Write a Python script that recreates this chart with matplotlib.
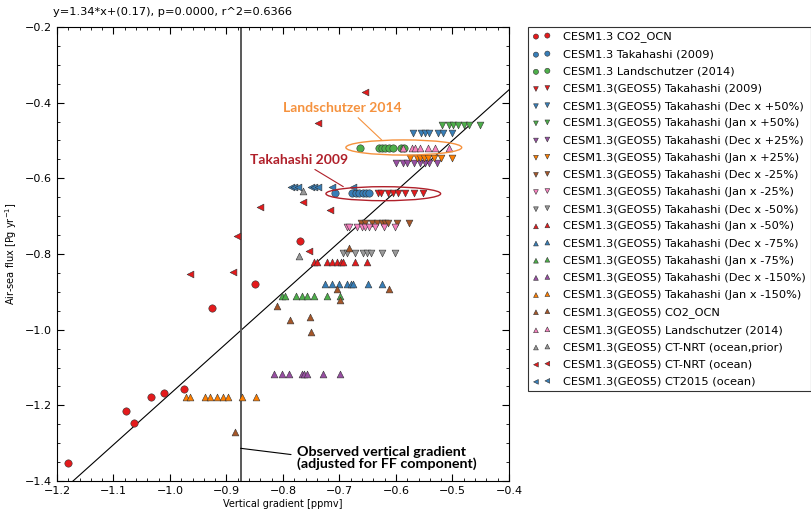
import numpy as np
import matplotlib
matplotlib.use('Agg')
import matplotlib.pyplot as plt
from matplotlib.patches import Ellipse
from matplotlib.ticker import MultipleLocator

# regression from the model/obs comparison
slope = 1.34
intercept = 0.17
p_value = 0.0
r2 = 0.6366
obs_gradient = -0.875

# Set1 palette without yellow
red, blue, green, purple = '#e41a1c', '#377eb8', '#4daf4a', '#984ea3'
orange, brown, pink, grey = '#ff7f00', '#a65628', '#f781bf', '#999999'

co2ocn_x = [-1.180, -1.077, -1.064, -1.033, -1.011, -0.975, -0.926, -0.849, -0.770]
co2ocn_y = [-1.353, -1.215, -1.248, -1.177, -1.168, -1.156, -0.942, -0.879, -0.765]

tak_x = [-0.708, -0.677, -0.671, -0.665, -0.659, -0.653, -0.647]
tak_y = [-0.640] * 7

land_x = [-0.664, -0.630, -0.625, -0.619, -0.612, -0.606, -0.591, -0.585]
land_y = [-0.520] * 8

g_tak_x = [-0.631, -0.627, -0.614, -0.605, -0.596, -0.584, -0.569, -0.552]
g_tak_y = [-0.640] * 8

dec_p50_x = [-0.570, -0.556, -0.548, -0.542, -0.526, -0.516, -0.501]
dec_p50_y = [-0.479] * 7
jan_p50_x = [-0.518, -0.507, -0.499, -0.490, -0.479, -0.470, -0.451]
jan_p50_y = [-0.458] * 7
dec_p25_x = [-0.600, -0.587, -0.581, -0.569, -0.557, -0.548, -0.542, -0.527]
dec_p25_y = [-0.559] * 8
jan_p25_x = [-0.575, -0.562, -0.558, -0.550, -0.543, -0.532, -0.521, -0.501]
jan_p25_y = [-0.547] * 8
dec_m25_x = [-0.662, -0.655, -0.643, -0.634, -0.625, -0.620, -0.614, -0.598, -0.577]
dec_m25_y = [-0.717] * 9
jan_m25_x = [-0.687, -0.683, -0.669, -0.661, -0.655, -0.647, -0.638, -0.621, -0.601]
jan_m25_y = [-0.728] * 9
dec_m50_x = [-0.693, -0.687, -0.673, -0.659, -0.652, -0.645, -0.624, -0.601]
dec_m50_y = [-0.798] * 8
jan_m50_x = [-0.745, -0.740, -0.723, -0.714, -0.705, -0.698, -0.693, -0.673, -0.651]
jan_m50_y = [-0.820] * 9
dec_m75_x = [-0.725, -0.714, -0.701, -0.686, -0.680, -0.676, -0.650, -0.625]
dec_m75_y = [-0.880] * 8
jan_m75_x = [-0.802, -0.797, -0.777, -0.767, -0.757, -0.746, -0.723, -0.699]
jan_m75_y = [-0.910] * 8
dec_m150_x = [-0.816, -0.801, -0.789, -0.766, -0.762, -0.757, -0.730, -0.699]
dec_m150_y = [-1.118] * 8
jan_m150_x = [-0.971, -0.965, -0.938, -0.929, -0.917, -0.906, -0.897, -0.873, -0.847]
jan_m150_y = [-1.179] * 9

g_co2ocn_x = [-0.885, -0.810, -0.788, -0.753, -0.750, -0.704, -0.699, -0.612, -0.684]
g_co2ocn_y = [-1.271, -0.938, -0.975, -0.966, -1.006, -0.893, -0.921, -0.893, -0.785]
g_land_x = [-0.587, -0.572, -0.566, -0.558, -0.543, -0.531, -0.507]
g_land_y = [-0.520] * 7
ctnrt_prior_x = [-0.764, -0.772]
ctnrt_prior_y = [-0.633, -0.806]
ctnrt_x = [-0.655, -0.738, -0.841, -0.881, -0.764, -0.716, -0.965, -0.888, -0.754]
ctnrt_y = [-0.371, -0.455, -0.675, -0.753, -0.662, -0.684, -0.853, -0.847, -0.792]
ct2015_x = [-0.786, -0.780, -0.773, -0.750, -0.745, -0.738, -0.714, -0.676]
ct2015_y = [-0.624] * 8

series = [
    ('CESM1.3 CO2_OCN', co2ocn_x, co2ocn_y, 'o', red),
    ('CESM1.3 Takahashi (2009)', tak_x, tak_y, 'o', blue),
    ('CESM1.3 Landschutzer (2014)', land_x, land_y, 'o', green),
    ('CESM1.3(GEOS5) Takahashi (2009)', g_tak_x, g_tak_y, 'v', red),
    ('CESM1.3(GEOS5) Takahashi (Dec x +50%)', dec_p50_x, dec_p50_y, 'v', blue),
    ('CESM1.3(GEOS5) Takahashi (Jan x +50%)', jan_p50_x, jan_p50_y, 'v', green),
    ('CESM1.3(GEOS5) Takahashi (Dec x +25%)', dec_p25_x, dec_p25_y, 'v', purple),
    ('CESM1.3(GEOS5) Takahashi (Jan x +25%)', jan_p25_x, jan_p25_y, 'v', orange),
    ('CESM1.3(GEOS5) Takahashi (Dec x -25%)', dec_m25_x, dec_m25_y, 'v', brown),
    ('CESM1.3(GEOS5) Takahashi (Jan x -25%)', jan_m25_x, jan_m25_y, 'v', pink),
    ('CESM1.3(GEOS5) Takahashi (Dec x -50%)', dec_m50_x, dec_m50_y, 'v', grey),
    ('CESM1.3(GEOS5) Takahashi (Jan x -50%)', jan_m50_x, jan_m50_y, '^', red),
    ('CESM1.3(GEOS5) Takahashi (Dec x -75%)', dec_m75_x, dec_m75_y, '^', blue),
    ('CESM1.3(GEOS5) Takahashi (Jan x -75%)', jan_m75_x, jan_m75_y, '^', green),
    ('CESM1.3(GEOS5) Takahashi (Dec x -150%)', dec_m150_x, dec_m150_y, '^', purple),
    ('CESM1.3(GEOS5) Takahashi (Jan x -150%)', jan_m150_x, jan_m150_y, '^', orange),
    ('CESM1.3(GEOS5) CO2_OCN', g_co2ocn_x, g_co2ocn_y, '^', brown),
    ('CESM1.3(GEOS5) Landschutzer (2014)', g_land_x, g_land_y, '^', pink),
    ('CESM1.3(GEOS5) CT-NRT (ocean,prior)', ctnrt_prior_x, ctnrt_prior_y, '^', grey),
    ('CESM1.3(GEOS5) CT-NRT (ocean)', ctnrt_x, ctnrt_y, '<', red),
    ('CESM1.3(GEOS5) CT2015 (ocean)', ct2015_x, ct2015_y, '<', blue),
]

fig = plt.figure(figsize=(8.11, 5.09), dpi=100)
ax = fig.add_axes([57/811, 1 - 481/509, 452/811, 454/509])

for label, x, y, m, c in series:
    s = 28 if m == 'o' else 24
    ax.scatter(x, y, s=s, marker=m, c=c, edgecolors='#333333', linewidths=0.4,
               label=label, zorder=3)

xx = np.array([-1.2, -0.4])
ax.plot(xx, slope * xx + intercept, color='k', lw=0.8, zorder=2)
ax.axvline(obs_gradient, color='0.35', lw=1.4, zorder=2)

# highlight the two observation-based flux products
ax.add_patch(Ellipse((-0.6225, -0.6406), 0.203, 0.037, fill=False,
                     edgecolor='#b0202a', lw=1.0, zorder=4))
ax.add_patch(Ellipse((-0.5862, -0.5185), 0.205, 0.040, fill=False,
                     edgecolor='#f5923e', lw=1.0, zorder=4))

ax.annotate('Takahashi 2009', xy=(-0.6933, -0.622), xytext=(-0.858, -0.5515),
            color='#b0202a', fontsize=10, fontweight='bold', family='Lato',
            ha='left', va='center',
            arrowprops=dict(arrowstyle='-', color='#b0202a', lw=0.8,
                            shrinkA=1, shrinkB=0, relpos=(0.6, 0)))
ax.annotate('Landschutzer 2014', xy=(-0.6253, -0.4987), xytext=(-0.8, -0.414),
            color='#f5923e', fontsize=10, fontweight='bold', family='Lato',
            ha='left', va='center',
            arrowprops=dict(arrowstyle='-', color='#f5923e', lw=0.8,
                            shrinkA=1, shrinkB=0, relpos=(0.6, 0)))
ax.annotate('Observed vertical gradient\n(adjusted for FF component)',
            xy=(obs_gradient, -1.3136), xytext=(-0.776, -1.340),
            fontsize=10.3, fontweight='bold', family='Lato',
            ha='left', va='center', linespacing=0.9,
            arrowprops=dict(arrowstyle='-', color='k', lw=0.8,
                            shrinkA=2, shrinkB=0, relpos=(0, 0.63)))

ax.set_xlim(-1.2, -0.4)
ax.set_ylim(-1.4, -0.2)
ax.xaxis.set_major_locator(MultipleLocator(0.1))
ax.xaxis.set_minor_locator(MultipleLocator(0.02))
ax.yaxis.set_major_locator(MultipleLocator(0.2))
ax.yaxis.set_minor_locator(MultipleLocator(0.05))
ax.tick_params(which='both', direction='in', top=True, right=True, labelsize=8)
ax.tick_params(which='major', length=5, width=0.8)
ax.tick_params(which='minor', length=2.5, width=0.6)
for sp in ax.spines.values():
    sp.set_linewidth(0.8)

ax.set_xlabel('Vertical gradient [ppmv]', fontsize=7, labelpad=2)
ax.set_ylabel('Air-sea flux [Pg yr$^{-1}$]', fontsize=7, labelpad=4)

fig.text(53/811, 1 - 12/509,
         'y=%.2f*x+(%.2f), p=%.4f, r^2=%.4f' % (slope, intercept, p_value, r2),
         fontsize=8.2, va='center', ha='left')

leg = ax.legend(loc='upper left', bbox_to_anchor=(1.042, 1.0), scatterpoints=2,
                fontsize=8.2, frameon=True, fancybox=False, markerscale=0.7,
                borderpad=0.4, labelspacing=0.63, handlelength=1.6,
                handletextpad=1.1, borderaxespad=0.0)
leg.get_frame().set_edgecolor('k')
leg.get_frame().set_linewidth(0.8)

fig.savefig('out.png', dpi=100)
